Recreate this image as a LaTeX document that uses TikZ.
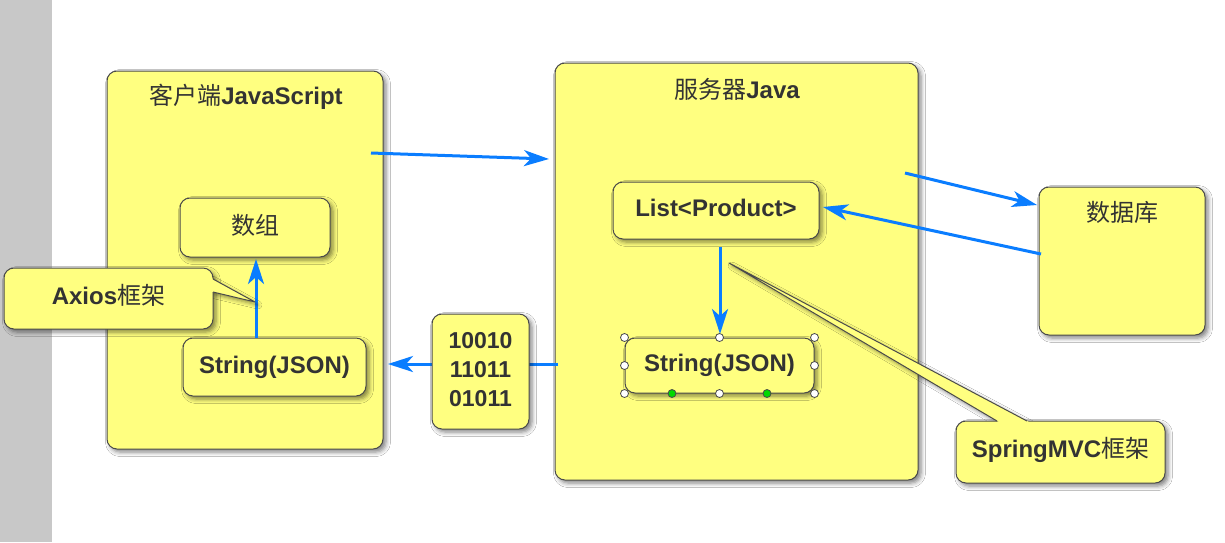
\documentclass[tikz,border=0pt]{standalone}
\usepackage{fontspec}
\setmainfont{Liberation Sans}
\newfontfamily\cjk{Noto Sans CJK SC}
\usetikzlibrary{shadows.blur,arrows.meta,calc}
\definecolor{boxyellow}{HTML}{FFFF80}
\definecolor{boxline}{HTML}{4A4A4A}
\definecolor{txt}{HTML}{333333}
\definecolor{arrowblue}{HTML}{0A7DFF}
\definecolor{band}{HTML}{C8C8C8}
\newcommand{\zh}[1]{{\cjk\mdseries #1}}
\begin{document}
\begin{tikzpicture}[x=1pt,y=-1pt,
  box/.style={draw=boxline, line width=1pt, fill=boxyellow, rounded corners=10pt,
    blur shadow={shadow xshift=3pt, shadow yshift=-3pt, shadow blur radius=4.5pt, shadow opacity=50},
    inner sep=0pt},
  lbl/.style={text=txt, font=\fontsize{24}{28}\selectfont\bfseries},
  conn/.style={draw=arrowblue, line width=3pt, -{Stealth[length=25pt,width=16pt,inset=7pt]}},
  handle/.style={circle, draw=boxline, line width=0.8pt, fill=white, inner sep=0pt, minimum size=8pt},
  ghandle/.style={handle, fill=green!85!black}
]
\useasboundingbox (0,0) rectangle (1225,542);
\fill[white] (0,0) rectangle (1225,542);
\fill[band] (0,0) rectangle (52,542);

% big boxes
\node[box, minimum width=276pt, minimum height=378pt] (client) at (245,260) {};
\node[lbl] (clientT) at (246,97) {\zh{客户端}JavaScript};
\node[box, minimum width=363pt, minimum height=417pt] (server) at (736.5,271.5) {};
\node[lbl] (serverT) at (737,89) {\zh{服务器}Java};
\node[box, minimum width=166pt, minimum height=148pt] (db) at (1122,261) {};
\node[lbl] (dbT) at (1122,212) {\zh{数据库}};

% inner boxes
\node[box, lbl, minimum width=150pt, minimum height=59pt] (arr) at (255,227.5) {\raisebox{6pt}{\zh{数组}}};
\node[box, lbl, minimum width=183pt, minimum height=58pt] (cstr) at (274.5,367) {\raisebox{4pt}{String(JSON)}};
\node[box, lbl, minimum width=206pt, minimum height=57pt] (list) at (716,210.5) {\raisebox{5pt}{List<Product>}};
\node[box, lbl, minimum width=189pt, minimum height=55pt] (sstr) at (719.5,365.5) {\raisebox{3pt}{String(JSON)}};

% connector end points
\coordinate (a1s) at (371,153);
\coordinate (a1e) at (549,159);
\coordinate (a2s) at (905,173);
\coordinate (a2e) at (1037,205);
\coordinate (a3s) at (1041,254);
\coordinate (a3e) at (823,207);
\coordinate (a4s) at (720,247);
\coordinate (a4e) at (720,334);
\coordinate (a5s) at (558,364);
\coordinate (a5e) at (388,364);
\coordinate (a6s) at (256,338);
\coordinate (a6e) at (256,259);

\draw[conn] (a1s) -- (a1e);
\draw[conn] (a2s) -- (a2e);
\draw[conn] (a3s) -- (a3e);
\draw[conn] (a4s) -- (a4e);
\draw[conn] (a5s) -- (a5e);
\draw[conn] (a6s) -- (a6e);

% binary box
\node[box, lbl, minimum width=97pt, minimum height=115pt, align=center,
  font=\fontsize{23}{29}\selectfont\bfseries] (bin) at (480.5,371.5) {\raisebox{4pt}{10010}\\\raisebox{4pt}{11011}\\\raisebox{4pt}{01011}};

% selection handles
\node[handle] (h1) at (sstr.north west) {};
\node[handle] (h2) at (sstr.north) {};
\node[handle] (h3) at (sstr.north east) {};
\node[handle] (h4) at (sstr.west) {};
\node[handle] (h5) at (sstr.east) {};
\node[handle] (h6) at (sstr.south west) {};
\node[handle] (h7) at (sstr.south) {};
\node[handle] (h8) at (sstr.south east) {};
\node[ghandle] (g1) at ($(sstr.south west)!0.25!(sstr.south east)$) {};
\node[ghandle] (g2) at ($(sstr.south west)!0.75!(sstr.south east)$) {};

% Axios callout
\fill[boxyellow, blur shadow={shadow xshift=3pt, shadow yshift=-3pt, shadow blur radius=4pt, shadow opacity=45}]
  (210,277.4) -- (255,302) -- (210,291.3) -- cycle;
\node[box, lbl, minimum width=209pt, minimum height=61pt] (axios) at (108.5,298.5) {\raisebox{8pt}{Axios\zh{框架}}};
\fill[boxyellow] (210,277.4) -- (255,302) -- (210,291.3) -- cycle;
\draw[boxline, line width=1pt, line join=round] (213,279) -- (255,302) -- (213,292);

% SpringMVC callout
\fill[boxyellow, blur shadow={shadow xshift=3pt, shadow yshift=-3pt, shadow blur radius=4pt, shadow opacity=45}]
  (1002.1,424) -- (729,263) -- (1032.7,424) -- cycle;
\node[box, lbl, minimum width=209pt, minimum height=62pt] (mvc) at (1060.5,452) {\raisebox{10pt}{SpringMVC\zh{框架}}};
\fill[boxyellow] (1002.1,424) -- (729,263) -- (1032.7,424) -- cycle;
\draw[boxline, line width=1pt, line join=round] (997,421) -- (729,263) -- (1027,421);
\end{tikzpicture}
\end{document}
